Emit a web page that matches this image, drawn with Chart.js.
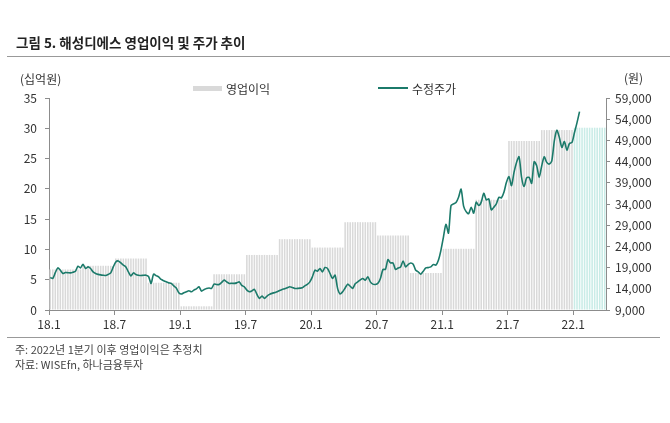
<!DOCTYPE html>
<html>
<head>
<meta charset="utf-8">
<script src="https://cdn.jsdelivr.net/npm/chart.js@4"></script>
<style>
body { margin: 0; background: #fff; font-family: "Noto Sans CJK KR", "Noto Sans", sans-serif; }
#wrap { position: relative; width: 670px; height: 423px; overflow: hidden; }
#chart { position: absolute; left: 0; top: 0; }
.t { position: absolute; white-space: nowrap; color: #333; }
#title { left: 16px; top: 32px; font-size: 13.5px; font-weight: bold; color: #222; }
#rule1 { position: absolute; left: 7px; right: 0; top: 56px; height: 1px; background: #999; }
#rule2 { position: absolute; left: 7px; right: 10px; top: 337px; height: 1px; background: #999; }
.note { font-size: 11px; color: #444; left: 15px; }
.sw { position: absolute; }
</style>
</head>
<body>
<div id="wrap">
  <canvas id="chart" width="670" height="423"></canvas>
  <div id="title" class="t">그림 5. 해성디에스 영업이익 및 주가 추이</div>
  <div id="rule1"></div>
  <div class="t" style="left:20px;top:70px;font-size:12px;">(십억원)</div>
  <div class="t" style="left:624px;top:69px;font-size:12px;">(원)</div>
  <div class="sw" style="left:193px;top:86px;width:29px;height:5px;background:#d9d9d9;"></div>
  <div class="t" style="left:226px;top:80px;font-size:12px;">영업이익</div>
  <div class="sw" style="left:378px;top:87px;width:30px;height:2px;background:#1b7a6a;"></div>
  <div class="t" style="left:412px;top:80px;font-size:12px;">수정주가</div>
  <div id="rule2"></div>
  <div class="t note" style="top:341px;">주: 2022년 1분기 이후 영업이익은 추정치</div>
  <div class="t note" style="top:356px;">자료: WISEfn, 하나금융투자</div>
</div>
<script>
// quarterly operating profit (십억원), 18.1Q ~ 22.1Q(E)
const quarters = ["18.1Q","18.2Q","18.3Q","18.4Q","19.1Q","19.2Q","19.3Q","19.4Q","20.1Q","20.2Q","20.3Q","20.4Q","21.1Q","21.2Q","21.3Q","21.4Q","22.1QE"];
const opProfit = [6.7, 7.3, 8.5, 4.5, 0.6, 5.9, 9.1, 11.7, 10.3, 14.5, 12.3, 6.1, 10.1, 18.2, 27.9, 29.7, 30.1];
const estimateFrom = 16;
const weeksPerQuarter = 13;

// weekly adjusted stock price (원), from first week of 2018
const price = [
  16680,16440,17800,18930,18390,17610,17850,17800,17750,17900,18150,19330,18930,
  19800,18790,19160,18790,17990,17610,17400,17280,17200,17140,17400,17750,19160,
  20340,20570,20100,19600,19160,17990,17050,17750,17380,17200,17140,17200,17210,
  16900,15270,17450,17100,16820,16200,15900,15640,15400,15270,14700,14200,13060,
  12760,13060,13300,13530,13290,13700,14000,14470,13460,13800,14090,14200,14090,
  15100,15000,15030,15500,16040,15640,15270,15300,15270,15400,15640,14800,14470,
  13700,13290,13500,13860,12680,11740,12290,11740,12300,12680,12920,13100,13290,
  13600,13860,14000,14230,14470,14300,14090,14090,14150,14230,14700,15030,15640,
  16820,18390,18150,18790,17990,19020,18790,17610,16440,17210,14090,12760,13290,
  14200,15100,14600,14090,15200,15640,16100,16440,16000,16820,15640,15100,15030,
  15300,16440,18550,18600,20900,20100,20100,18550,18900,19160,20570,19160,19730,
  20100,19800,18390,18000,17450,18150,18930,19000,19160,19730,19580,20740,23080,
  26200,29180,27140,33640,34040,34350,35600,37500,33500,32200,31700,33250,31840,
  34430,33640,34430,36530,34980,35200,32630,33250,34040,35600,35450,36760,39110,
  40450,38340,41460,43810,45140,40290,38110,40140,40290,38880,43970,43030,40290,
  43030,45140,43810,43420,44200,48900,51400,49670,47330,48740,46720,48270,48500,
  50850,53200,55780
];

const xTickLabels = ["18.1","18.7","19.1","19.7","20.1","20.7","21.1","21.7","22.1"];
const xTickWeeks = [0, 26, 52, 78, 104, 130, 156, 182, 208];

const totalWeeks = quarters.length * weeksPerQuarter;

let barData = [];
let barColors = [];
for (let q = 0; q < quarters.length; q++) {
    for (let w = 0; w < weeksPerQuarter; w++) {
        barData.push({ x: q * weeksPerQuarter + w + 0.5, y: opProfit[q] });
        barColors.push(q >= estimateFrom ? "#c9ece7" : "#d9d9d9");
    }
}
let lineData = price.map((v, i) => ({ x: i + 0.5, y: v }));

const font = { family: "'Noto Sans CJK KR', 'Noto Sans', sans-serif", size: 12 };
const axisColor = "#8c8c8c";

new Chart(document.getElementById("chart"), {
    data: {
        datasets: [
            {
                type: "line",
                label: "수정주가",
                data: lineData,
                yAxisID: "y2",
                borderColor: "#1b7a6a",
                borderWidth: 1.6,
                pointRadius: 0,
                tension: 0.25,
                order: 0
            },
            {
                type: "bar",
                label: "영업이익",
                data: barData,
                yAxisID: "y",
                backgroundColor: barColors,
                barPercentage: 0.62,
                categoryPercentage: 1,
                order: 1
            }
        ]
    },
    options: {
        responsive: false,
        animation: false,
        layout: { padding: { top: 98, left: 0, right: 0, bottom: 0 } },
        plugins: { legend: { display: false }, tooltip: { enabled: false } },
        scales: {
            x: {
                type: "linear",
                offset: false,
                min: 0,
                max: totalWeeks,
                afterBuildTicks: s => { s.ticks = xTickWeeks.map(v => ({ value: v })); },
                afterFit: s => { s.height = 113; },
                ticks: {
                    autoSkip: false, maxRotation: 0, padding: 2, color: "#333", font: font,
                    callback: v => xTickLabels[xTickWeeks.indexOf(v)]
                },
                grid: { offset: false, drawOnChartArea: false, tickLength: 5, color: axisColor },
                border: { color: axisColor }
            },
            y: {
                position: "left",
                min: 0, max: 35,
                afterFit: s => { s.width = 49; },
                ticks: { stepSize: 5, padding: 8, color: "#333", font: font },
                grid: { drawOnChartArea: false, tickLength: 4, color: axisColor },
                border: { color: axisColor }
            },
            y2: {
                position: "right",
                min: 9000, max: 59000,
                afterFit: s => { s.width = 64; },
                ticks: { stepSize: 5000, padding: 5, color: "#333", font: font,
                    callback: v => v.toLocaleString("en-US") },
                grid: { drawOnChartArea: false, tickLength: 4, color: axisColor },
                border: { color: axisColor }
            }
        }
    }
});
</script>
</body>
</html>
